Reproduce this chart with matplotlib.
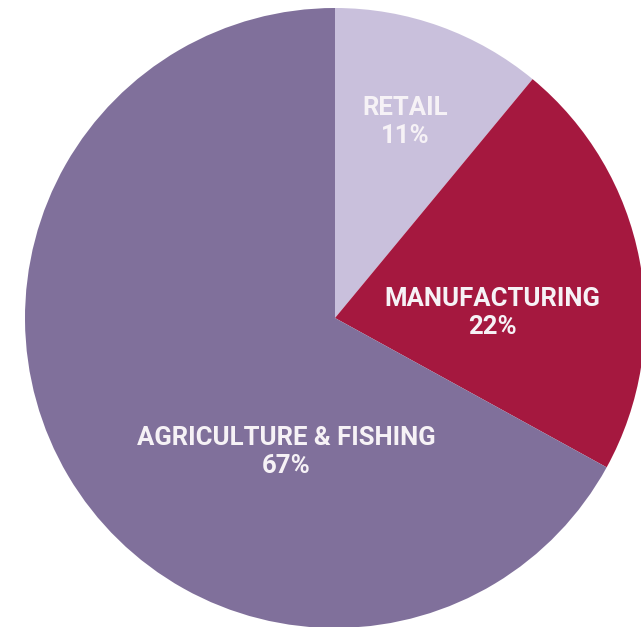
import matplotlib
matplotlib.use("Agg")
from matplotlib import pyplot as plt

# share of sector
sectors = ['RETAIL', 'MANUFACTURING', 'AGRICULTURE & FISHING']
shares = [11, 22, 67]
colors = ['#c9c0dc', '#a5183f', '#80709b']

W, H = 641, 627
fig = plt.figure(figsize=(W / 100, H / 100), dpi=100)
ax = fig.add_axes([0, 0, 1, 1])

cx, cy, r = 335, H - 318, 310
wedges, _ = ax.pie(shares, colors=colors, startangle=90, counterclock=False,
                   radius=r, center=(cx, cy),
                   wedgeprops=dict(linewidth=0))

# label spots (pixel coords, top-left origin)
label_pos = [(405, 122), (492, 313), (286, 452)]
for name, val, (x, y) in zip(sectors, shares, label_pos):
    ax.text(x, H - y, f'{name}\n{val}%', ha='center', va='center',
            color='#f6f2f6', fontsize=18.5, fontweight='bold',
            family=['Roboto', 'DejaVu Sans'], linespacing=1.2)

ax.set_xlim(0, W)
ax.set_ylim(0, H)
ax.set_aspect('equal')
ax.axis('off')

fig.savefig('out.png', dpi=100)
